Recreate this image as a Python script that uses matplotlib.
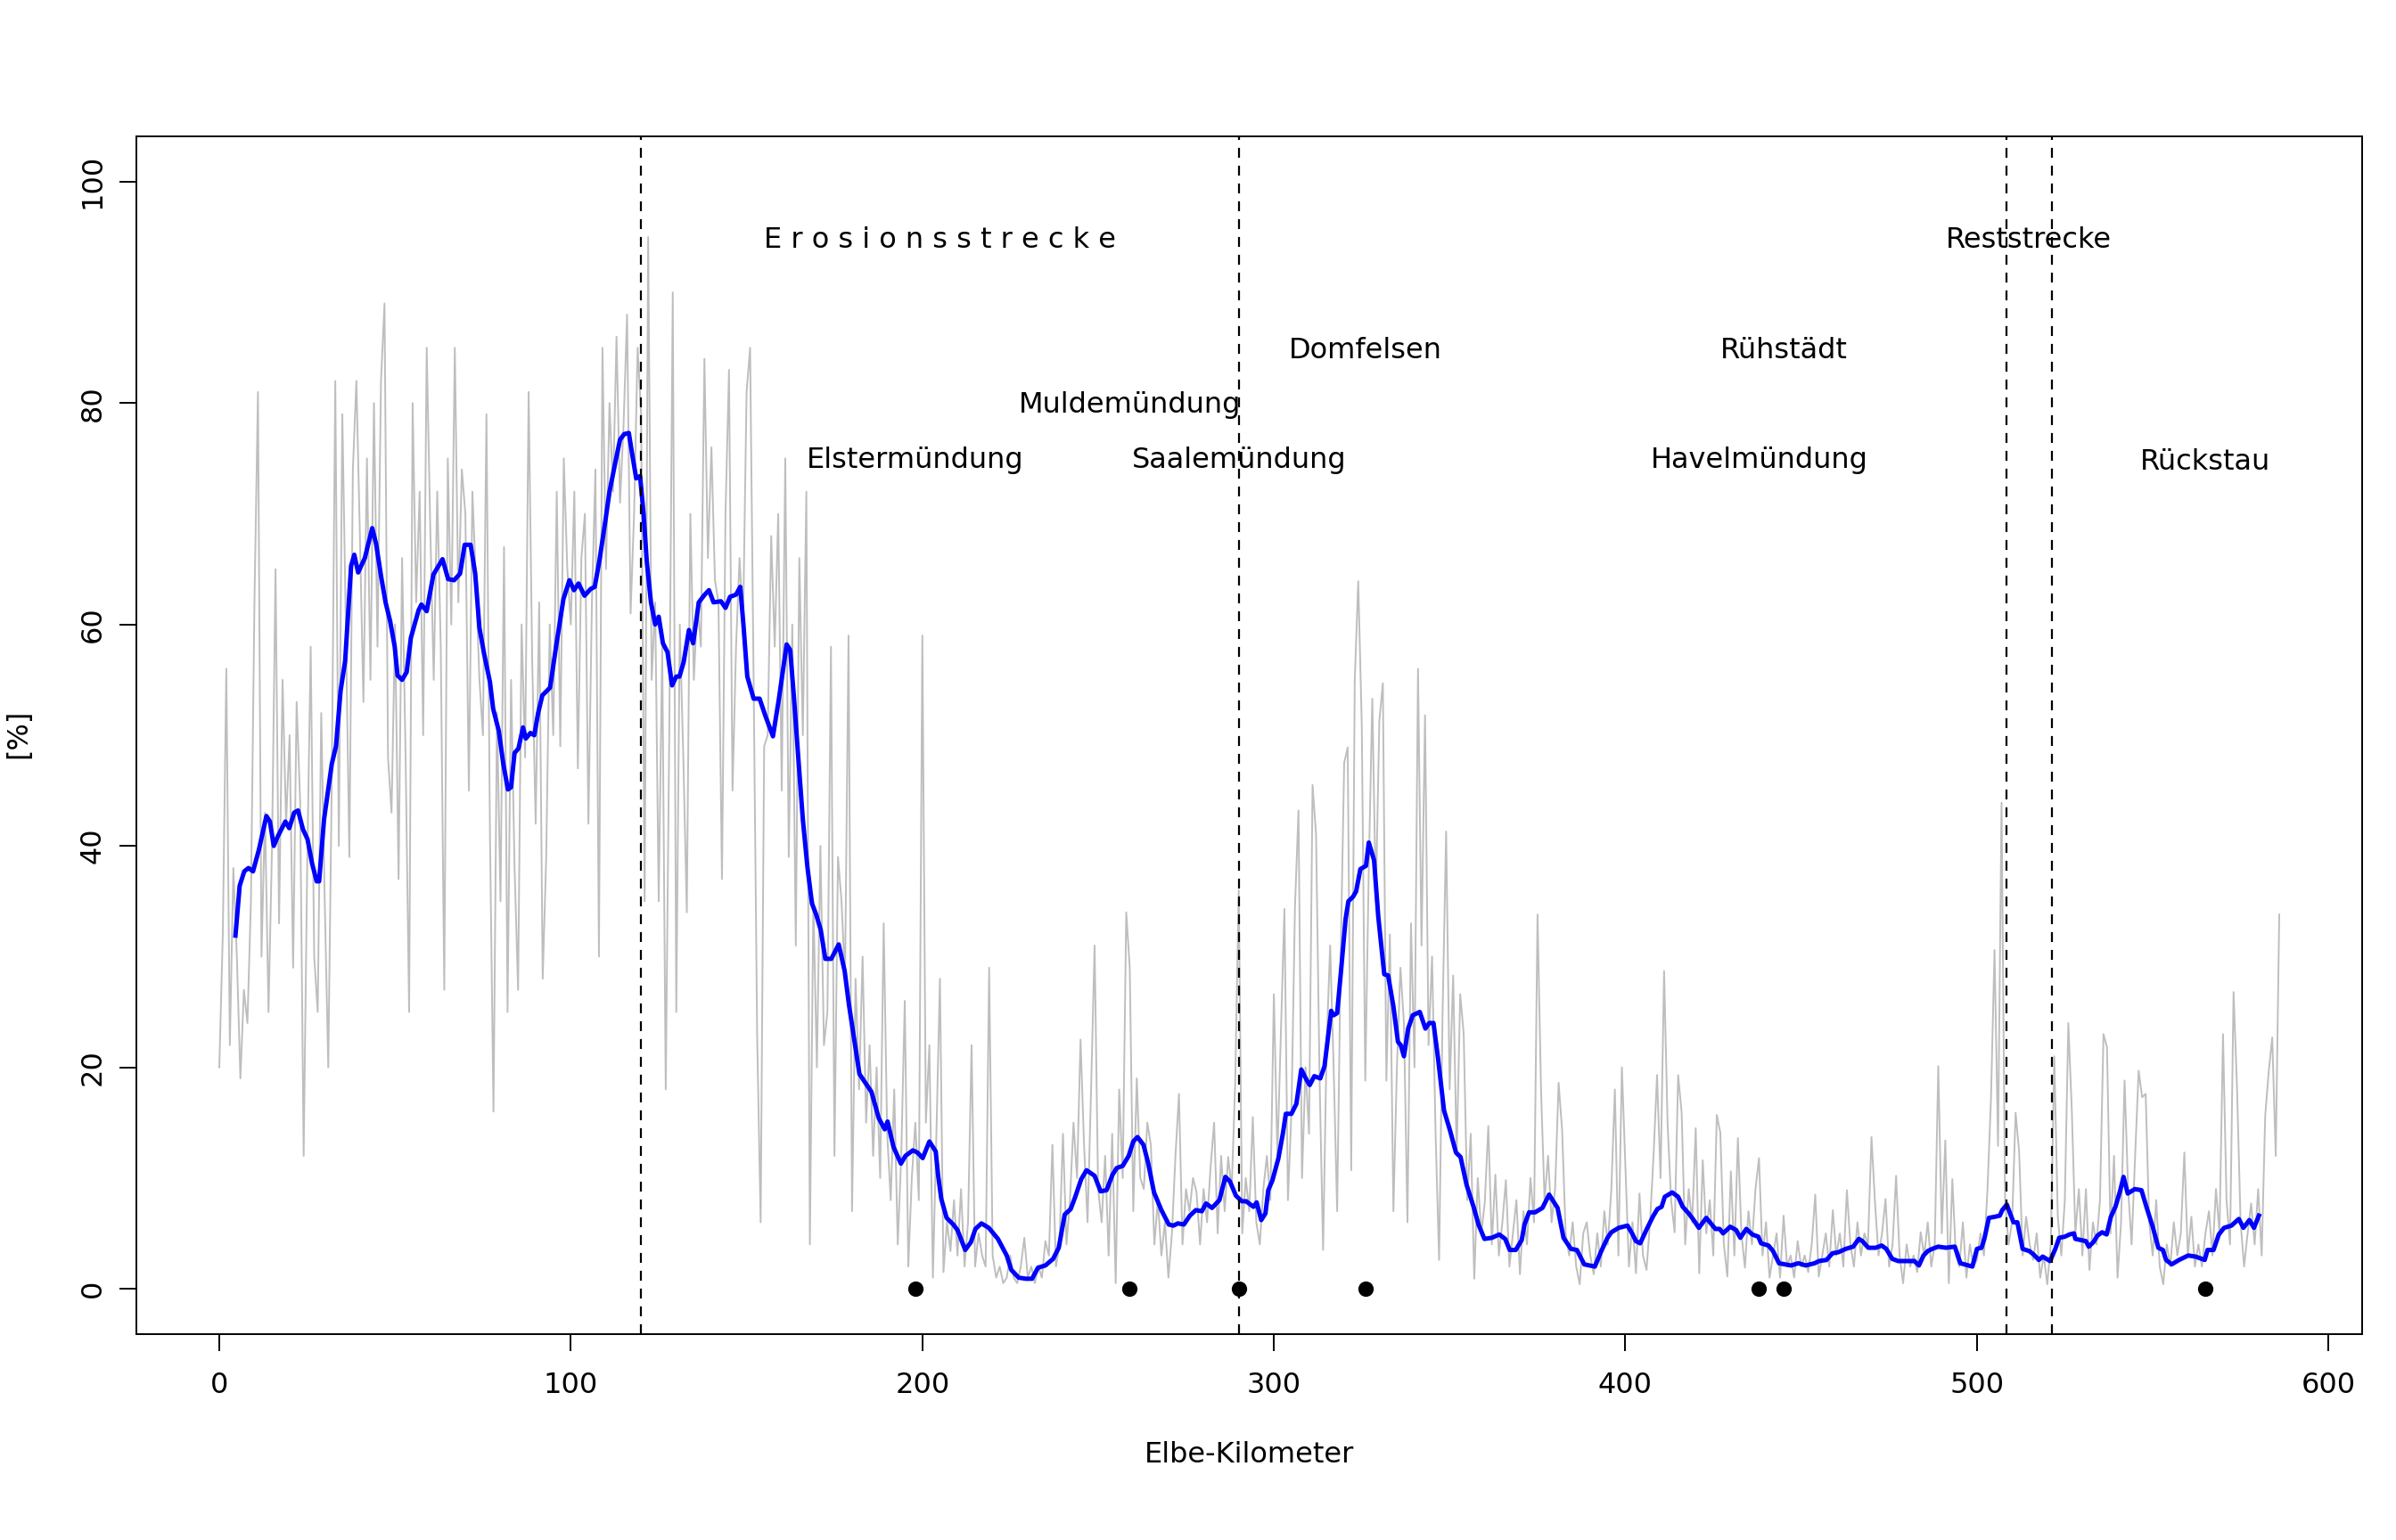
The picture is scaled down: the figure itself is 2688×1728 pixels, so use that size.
import numpy as np
import matplotlib
matplotlib.use("Agg")
import matplotlib.pyplot as plt

# raw values, one per Elbe-km (0 .. 586)
gray_pct = [
    20, 32, 56, 22, 38, 30, 19, 27, 24, 35,
    62, 81, 30, 43, 25, 40, 65, 33, 55, 42,
    50, 29, 53, 44, 12, 38, 58, 30, 25, 52,
    35, 20, 46, 82, 40, 79, 60, 39, 74, 82,
    68, 53, 75, 55, 80, 58, 82, 89, 48, 43,
    60, 37, 66, 48, 25, 80, 62, 72, 50, 85,
    69, 55, 72, 58, 27, 75, 60, 85, 62, 74,
    70, 45, 72, 64, 55, 50, 79, 41, 16, 52,
    35, 67, 25, 55, 38, 27, 60, 48, 81, 57,
    42, 62, 28, 39, 60, 50, 72, 49, 75, 65,
    60, 72, 47, 66, 70, 42, 62, 74, 30, 85,
    65, 80, 72, 86, 71, 78, 88, 61, 70, 85,
    79, 35, 95, 55, 62, 35, 58, 18, 50, 90,
    25, 60, 48, 34, 70, 55, 62, 58, 84, 66,
    76, 64, 62, 37, 70, 83, 45, 58, 66, 60,
    81, 85, 55, 23, 6, 49, 50, 68, 58, 70,
    45, 75, 39, 60, 31, 66, 50, 72, 4, 35,
    20, 40, 22, 25, 58, 12, 39, 35, 28, 59,
    7, 28, 18, 30, 15, 22, 12, 20, 10, 33,
    14, 8, 18, 4, 12, 26, 2, 10, 15, 8,
    59, 15, 22, 1, 14, 28, 1.5, 6, 3.4, 8,
    3, 9, 2, 6, 22, 2, 5, 3, 2, 29,
    3, 1, 2, 0.5, 1, 3, 1, 0.5, 2, 4.6,
    1, 2, 0.5, 2, 1, 4.3, 3, 13, 2, 4,
    14, 4, 8, 15, 10, 22.5, 13, 6, 18, 31,
    9, 6, 12, 3, 14, 0.5, 18, 10, 34, 29,
    7, 19, 10, 9, 15, 13, 4, 8, 3, 6,
    1, 5, 12, 17.6, 4, 9, 7, 10, 8.7, 4,
    9, 6, 11, 15, 5, 12, 7, 11.9, 9, 18.7,
    36, 5, 10, 7, 15.5, 6, 4, 9, 12, 8,
    26.6, 12, 23, 34.3, 8, 16, 34.5, 43.2, 10, 20,
    14, 45.5, 41, 19, 3.5, 22, 31, 20, 7, 30,
    47.5, 48.9, 10.7, 54.9, 63.9, 51, 18.8, 38, 53.3, 35,
    51.3, 54.7, 18.8, 32, 7, 20, 29, 24, 6, 33,
    20, 56, 31, 51.8, 22, 30, 14, 2.6, 25, 41.3,
    18, 28.3, 12, 26.6, 23, 8, 14, 0.9, 10, 5,
    7.8, 14.7, 4, 10.3, 3, 6, 9.8, 2, 5, 8,
    1.3, 7, 4, 10, 6, 33.8, 17.9, 8, 12, 6,
    9, 18.6, 14.3, 5, 3, 6, 2, 0.4, 5, 6,
    3, 1.3, 5, 2, 7, 4, 9, 18, 3, 20,
    11, 2, 6, 1.4, 8.6, 3, 1.7, 6, 12, 19.3,
    10, 28.7, 14.9, 8, 5.1, 19.3, 15.9, 4, 9, 6,
    14.5, 1.4, 11.6, 5, 8, 3, 15.7, 14.1, 4, 1.1,
    10.6, 3, 13.6, 5, 1.9, 7, 4, 9, 11.8, 3,
    6, 1, 3, 5, 1, 6.6, 2, 3, 1, 4.3,
    2, 3, 1.5, 4, 8.5, 1.1, 3, 5, 2, 7.1,
    3, 5, 2, 8.9, 4, 2, 6, 3, 5, 4,
    13.7, 7.8, 3, 5, 8.1, 2, 4, 10.2, 3, 0.5,
    4, 2, 3, 1.5, 5.1, 3, 6, 2, 4, 20.1,
    5, 13.4, 0.5, 9.9, 3, 2, 6, 1, 4, 2,
    2.6, 5, 3, 9, 17.2, 30.6, 12.9, 43.9, 8, 4,
    6, 15.9, 12.4, 3, 6.5, 4, 2.6, 5, 1, 3,
    0.4, 4, 21, 6.5, 3, 8, 24, 16, 5, 9,
    3, 9, 1.7, 6, 4, 8, 23, 21.8, 5, 12,
    1, 6, 18.8, 9, 4, 12, 19.7, 17.3, 17.6, 6,
    3, 8, 2, 0.4, 4, 2, 6, 3, 5, 12.3,
    3, 6.5, 2, 4, 2, 5, 7, 3, 9, 5,
    23, 8, 4, 26.8, 18, 6, 2, 5, 7.7, 4,
    9, 3, 15.6, 19.6, 22.7, 12, 33.8,
]
gray_km = np.arange(len(gray_pct))

# smoothed curve (blue)
blue_km = [
    4.6, 5.8, 7.1, 8.3, 9.6, 11.3, 13.4, 14.4, 15.5, 16.7, 18.8, 19.9, 21.3, 22.4,
    23.8, 25.1, 26.4, 27.7, 28.4, 29.8, 32.0, 33.2, 34.5, 35.8, 37.5, 38.4, 39.5,
    41.4, 43.5, 44.6, 46.0, 47.3, 48.6, 49.9, 50.7, 52.0, 53.3, 54.5, 56.7, 57.5,
    59.0, 60.9, 63.5, 65.1, 66.8, 68.5, 69.8, 71.5, 72.8, 74.0, 75.3, 77.0, 77.9,
    79.5, 80.8, 82.1, 83.0, 84.0, 85.1, 86.4, 87.2, 88.5, 89.6, 90.7, 91.9, 94.1,
    95.8, 97.9, 99.6,
    100.9, 102.2, 103.9, 105.6, 106.8, 108.1, 109.8, 111.0, 112.7, 114.0, 115.2,
    116.5, 117.5, 118.6, 119.7, 120.7, 121.6, 122.8, 124.0, 125.0, 126.2, 127.5,
    128.8, 130.0, 130.9, 132.1, 133.6, 134.8, 136.4, 138.1, 139.3, 140.6, 142.7,
    144.0, 145.3, 147.0, 148.2, 149.1, 150.2, 152.0, 153.7, 155.4, 157.5, 159.2,
    161.4, 162.4, 163.5, 164.7, 166.0, 167.3, 168.6, 169.8, 171.1, 172.4, 174.1,
    176.2, 177.9, 179.1, 180.8, 182.1, 184.2, 185.5, 187.6, 189.3, 190.1, 191.8,
    193.9, 195.2,
    197.3, 198.6, 200.1, 202.0, 203.8, 204.5, 205.4, 206.9, 208.8, 210.0, 212.2,
    213.8, 215.1, 216.8, 218.9, 221.5, 224.0, 225.3, 227.4, 229.5, 231.2, 232.9,
    235.0, 237.2, 238.8, 240.5, 242.2, 243.5, 245.2, 246.7, 249.0, 250.7, 252.4,
    254.1, 255.3, 257.0, 258.7, 260.0, 261.2, 262.9, 264.2, 265.9, 268.0, 270.1,
    271.4, 272.7, 274.4, 276.1, 277.8, 279.5, 280.7, 282.4, 284.5, 286.2, 287.5,
    289.2, 290.9, 292.1, 294.2, 295.1, 296.4, 297.6,
    298.4, 299.6, 301.3, 302.6, 303.4, 305.0, 306.4, 307.8, 309.4, 310.2, 311.5,
    313.2, 314.4, 316.3, 317.0, 318.0, 319.1, 320.4, 321.2, 322.5, 323.4, 324.6,
    326.2, 327.0, 328.5, 329.7, 331.4, 332.5, 334.0, 335.3, 336.1, 337.0, 338.2,
    339.5, 341.5, 343.1, 344.2, 345.4, 346.7, 348.4, 350.1, 351.8, 353.1, 354.8,
    356.9, 358.2, 359.9, 362.0, 364.1, 365.8, 367.1, 368.8, 370.5, 371.3, 372.6,
    374.3, 376.4, 378.3, 380.7, 382.4, 384.5, 386.2, 388.3, 391.3, 393.0,
    394.9, 396.0, 398.1, 400.6, 401.9, 403.0, 404.2, 406.1, 407.8, 409.1, 410.3,
    411.2, 413.3, 415.0, 416.3, 418.0, 419.2, 420.9, 423.0, 425.6, 426.8, 427.8,
    429.8, 431.5, 432.7, 434.4, 436.1, 437.8, 438.6, 440.7, 442.0, 443.7, 445.4,
    447.1, 449.2, 451.3, 453.8, 455.1, 457.2, 458.9, 460.6, 462.7, 464.8, 466.4,
    467.4, 469.1, 471.2, 472.9, 474.2, 475.9, 477.6, 479.7, 482.2, 483.5, 484.8,
    486.0, 487.3, 489.0, 491.2, 493.7,
    495.3, 498.7, 500.0, 501.3, 502.1, 503.4, 505.1, 506.5, 507.2, 508.5, 509.3,
    510.4, 511.5, 513.0, 514.9, 516.1, 517.6, 518.7, 520.8, 522.3, 523.4, 525.0,
    526.3, 527.6, 528.0, 531.0, 531.8, 533.1, 534.3, 535.6, 536.9, 538.1, 539.4,
    540.7, 541.7, 542.9, 544.9, 546.8, 548.3, 550.0, 551.6, 552.9, 553.8, 555.4,
    557.5, 560.1, 562.2, 563.9, 564.8, 565.6, 567.3, 568.8, 570.3, 572.4, 574.5,
    575.8, 577.5, 578.8, 580.2,
]
blue_pct = [
    31.9, 36.4, 37.7, 38.0, 37.7, 39.7, 42.7, 42.2, 40.0, 40.9, 42.2, 41.6, 43.0, 43.2,
    41.5, 40.6, 38.4, 36.8, 36.8, 42.4, 47.4, 49.0, 54.0, 56.7, 65.3, 66.3, 64.7,
    66.0, 68.7, 67.3, 64.4, 62.0, 60.3, 58.0, 55.4, 55.0, 55.7, 58.8, 61.3, 61.8,
    61.2, 64.5, 65.9, 64.1, 64.0, 64.6, 67.2, 67.2, 64.6, 59.7, 57.4, 54.8, 52.4,
    50.4, 47.4, 45.1, 45.3, 48.4, 48.8, 50.7, 49.7, 50.2, 50.0, 52.0, 53.6, 54.3,
    58.0, 62.3, 64.0,
    63.1, 63.7, 62.6, 63.2, 63.4, 65.7, 69.3, 72.0, 74.7, 76.7, 77.2,
    77.3, 75.3, 73.2, 73.4, 70.0, 65.7, 62.0, 60.0, 60.7, 58.3, 57.5,
    54.5, 55.3, 55.3, 56.6, 59.5, 58.3, 62.0, 62.7, 63.1, 62.0, 62.1,
    61.5, 62.5, 62.7, 63.4, 60.0, 55.3, 53.3, 53.3, 51.7, 49.9, 53.3,
    58.2, 57.7, 53.3, 48.0, 42.4, 38.1, 34.8, 33.8, 32.4, 29.8, 29.8,
    31.1, 28.7, 25.7, 22.1, 19.4, 18.4, 17.8, 15.4, 14.4, 15.1, 12.8,
    11.3, 12.0,
    12.5, 12.3, 11.8, 13.3, 12.4, 10.2, 8.1, 6.4, 5.8, 5.3, 3.5,
    4.2, 5.4, 5.9, 5.5, 4.5, 3.0, 1.7, 1.0, 0.9, 0.9, 1.9,
    2.1, 2.7, 3.7, 6.7, 7.2, 8.3, 9.9, 10.7, 10.2, 8.8, 8.9,
    10.3, 10.9, 11.1, 12.0, 13.3, 13.7, 13.0, 11.4, 8.7, 7.1, 5.8,
    5.7, 5.9, 5.8, 6.6, 7.1, 7.0, 7.7, 7.3, 8.0, 10.1, 9.7,
    8.4, 7.9, 7.9, 7.4, 7.8, 6.2, 6.8,
    8.9, 9.8, 11.8, 14.1, 15.8, 15.8, 16.7, 19.8, 18.8, 18.4, 19.2,
    19.0, 20.1, 25.1, 24.7, 24.9, 28.7, 33.4, 35.0, 35.4, 35.9, 37.9,
    38.2, 40.3, 38.7, 33.6, 28.4, 28.3, 25.5, 22.3, 22.0, 21.0, 23.5,
    24.7, 25.0, 23.5, 24.0, 24.0, 20.8, 16.1, 14.3, 12.3, 11.9, 9.4,
    7.3, 5.8, 4.5, 4.6, 4.9, 4.5, 3.5, 3.5, 4.4, 5.8, 6.9,
    6.9, 7.3, 8.5, 7.3, 4.6, 3.6, 3.5, 2.2, 2.0, 3.3,
    4.6, 5.1, 5.5, 5.7, 5.0, 4.3, 4.1, 5.4, 6.5, 7.2, 7.4,
    8.3, 8.7, 8.3, 7.4, 6.8, 6.3, 5.5, 6.4, 5.4, 5.4, 5.0,
    5.6, 5.3, 4.6, 5.4, 4.9, 4.7, 4.1, 3.9, 3.4, 2.3, 2.2,
    2.1, 2.3, 2.1, 2.3, 2.5, 2.6, 3.2, 3.3, 3.6, 3.8, 4.5,
    4.3, 3.7, 3.7, 3.9, 3.6, 2.7, 2.5, 2.5, 2.5, 2.1, 3.0,
    3.4, 3.6, 3.8, 3.7, 3.8,
    2.3, 2.0, 3.6, 3.7, 4.5, 6.4, 6.5, 6.6, 7.1, 7.6, 6.9,
    6.0, 6.0, 3.6, 3.4, 3.1, 2.6, 2.9, 2.5, 3.6, 4.6, 4.7,
    4.9, 5.0, 4.5, 4.3, 3.8, 4.2, 4.8, 5.1, 4.9, 6.5, 7.4,
    8.8, 10.1, 8.6, 9.0, 8.9, 7.3, 5.6, 3.7, 3.5, 2.6, 2.2,
    2.6, 3.0, 2.9, 2.7, 2.6, 3.5, 3.5, 4.9, 5.5, 5.7, 6.3,
    5.5, 6.2, 5.5, 6.6,
]

# section boundaries (dashed lines)
section_km = [120, 290, 508.3, 521.4]

# tributaries / places marked at y = 0
place_names = ["Elstermündung", "Muldemündung", "Saalemündung", "Domfelsen",
               "Havelmündung", "Rühstädt", "Rückstau"]
place_km = [198, 259, 290, 326, 438, 445, 565]
place_label_y = [74.8, 79.8, 74.8, 84.7, 74.8, 84.7, 74.7]

section_names = ["E r o s i o n s s t r e c k e", "Reststrecke"]
section_label_km = [205, 514.8]
section_label_y = [94.7, 94.7]

plt.rcParams["font.family"] = "DejaVu Sans"
FS = 11.5

fig = plt.figure(figsize=(13.44, 8.64), dpi=200)
ax = fig.add_axes([0.0569, 0.1337, 0.9290, 0.7778])

ax.plot(gray_km, gray_pct, color="#bebebe", lw=0.7, zorder=1)
ax.plot(blue_km, blue_pct, color="#0000ff", lw=1.8, zorder=2)
for xk in section_km:
    ax.axvline(xk, color="black", lw=0.8, linestyle=(0, (5, 4)), zorder=3)
ax.plot(place_km, [0] * len(place_km), "o", color="black", ms=5.2, zorder=4)

for name, xk, yk in zip(place_names, place_km, place_label_y):
    ax.text(xk, yk, name, ha="center", va="center", fontsize=FS, zorder=5)
for name, xk, yk in zip(section_names, section_label_km, section_label_y):
    ax.text(xk, yk, name, ha="center", va="center", fontsize=FS, zorder=5)

ax.set_xlim(-23.6, 609.6)
ax.set_ylim(-4.1, 104.1)
ax.set_xticks(range(0, 601, 100))
ax.set_yticks(range(0, 101, 20))
ax.tick_params(direction="out", length=7, width=0.7, labelsize=FS, pad=8)
ax.tick_params(axis="y", pad=5)
for lab in ax.get_yticklabels():
    lab.set_rotation(90)
    lab.set_va("center")
for sp in ax.spines.values():
    sp.set_linewidth(0.7)

fig.text(0.5214, 0.055, "Elbe-Kilometer", ha="center", va="center", fontsize=FS)
fig.text(0.0078, 0.5237, "[%]", ha="center", va="center", rotation=90, fontsize=FS)

fig.savefig("out.png", dpi=200)
